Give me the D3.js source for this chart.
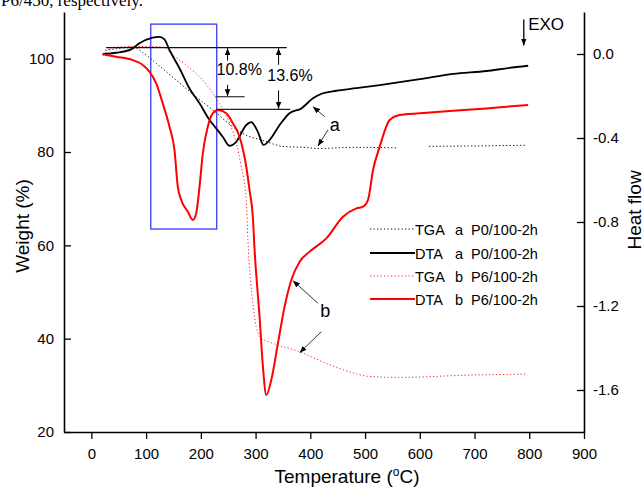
<!DOCTYPE html>
<html>
<head>
<meta charset="utf-8">
<script src="https://cdn.jsdelivr.net/npm/d3@7"></script>
<style>
body { margin: 0; background: #fff; }
text { font-family: Arial, "Liberation Sans", sans-serif; fill: #000; }
</style>
</head>
<body>
<div id="chart"></div>
<script>
// [temperature, weight %]
var tgaA = [[25.6,101.8],[51,102.2],[75,102.5],[93.8,101.35],[118.4,99.0],[155,95.4],[191.5,91.8],
  [222,89.0],[258.5,85.4],[283,83.6],[313,82.5],[350,81.2],[386.5,81.0],[417,80.75],[477,81.0],
  [557,80.9],[587,null],[617,81.2],[700,81.3],[796,81.45]];
var tgaB = [[22,100.6],[38.4,102.4],[69.5,102.6],[106,102.6],[130,102.5],[148.7,100.8],[173.2,98.6],
  [197.6,96.1],[215.9,93.6],[234,90.4],[252.4,86.2],[264.7,81.9],[273.8,76.9],[283,69.7],[286,61.1],
  [295,47.6],[301,42.6],[310.4,40.1],[331.6,39.0],[380.5,37.2],[429,34.7],[472,32.9],[508.5,31.9],
  [563,31.7],[691.5,32.2],[795,32.4]];
// [temperature, heat flow]
var dtaA = [[20.7,0.0],[45.2,0.006],[72.6,0.022],[87.8,0.051],[112,0.078],[124.4,0.082],[133.5,0.070],
  [142.7,0.019],[161,-0.068],[179,-0.163],[197.6,-0.235],[215.9,-0.314],[228,-0.354],[240,-0.394],
  [252.4,-0.437],[264.7,-0.418],[283,-0.338],[292,-0.324],[304,-0.37],[314.6,-0.433],[325.6,-0.41],
  [344,-0.338],[362,-0.282],[383.6,-0.259],[404.8,-0.211],[423,-0.187],[447.6,-0.175],[484,-0.163],
  [526.8,-0.148],[569.5,-0.132],[600,-0.12],[661,-0.095],[722,-0.081],[758.6,-0.068],[798,-0.056]];
var dtaB = [[20.7,-0.001],[45.2,-0.013],[75.5,-0.029],[93.8,-0.052],[106.1,-0.084],[118.4,-0.14],
  [130.4,-0.235],[142.7,-0.346],[151.8,-0.457],[157.9,-0.632],[164.1,-0.695],[176.2,-0.751],
  [185.3,-0.79],[191.5,-0.759],[197.6,-0.632],[203.6,-0.473],[212.7,-0.346],[221.9,-0.282],
  [231,-0.267],[246.4,-0.282],[258.5,-0.33],[270.7,-0.394],[283,-0.537],[289,-0.648],[295,-0.775],
  [298.2,-0.933],[307.3,-1.251],[313.4,-1.489],[319.6,-1.624],[328.7,-1.552],[340.8,-1.378],
  [353,-1.203],[365.3,-1.076],[380.5,-0.989],[398.8,-0.941],[429.3,-0.878],[459.7,-0.775],
  [484.2,-0.735],[496.3,-0.727],[505.4,-0.695],[514.6,-0.552],[526.8,-0.441],[545,-0.314],
  [563.4,-0.29],[600,-0.282],[661,-0.27],[722,-0.259],[758.6,-0.251],[798,-0.243]];

var xMajor = d3.range(0, 901, 100);
var xMinor = d3.range(-50, 901, 50);
var weightTicks = [20, 40, 60, 80, 100];
var heatTicks = [0, -0.4, -0.8, -1.2, -1.6];
var legendKind = ["TGA", "DTA", "TGA", "DTA"];
var legendTag = ["a", "a", "b", "b"];
var legendName = ["P0/100-2h", "P0/100-2h", "P6/100-2h", "P6/100-2h"];

var margin = {top: 12, right: 60, bottom: 55, left: 64},
    W = 644, H = 487;

var x = d3.scaleLinear().domain([-50, 900]).range([margin.left, W - margin.right]);
var yW = d3.scaleLinear().domain([20, 110]).range([H - margin.bottom, margin.top]);
var yH = d3.scaleLinear().domain([-1.8, 0.2]).range([H - margin.bottom, margin.top]);

var svg = d3.select("#chart").append("svg")
    .attr("width", W).attr("height", H);

// cut-off text from the page above
svg.append("text").attr("x", 1).attr("y", 6)
    .style("font-family", "'Liberation Serif', 'Times New Roman', serif")
    .style("font-size", "17px").text("P6/450, respectively.");

var dotted = "1.2,2.3";

var lineW = d3.line().defined(function(d) { return d[1] != null; })
    .x(function(d) { return x(d[0]); }).y(function(d) { return yW(d[1]); })
    .curve(d3.curveMonotoneX);
var lineH = d3.line()
    .x(function(d) { return x(d[0]); }).y(function(d) { return yH(d[1]); })
    .curve(d3.curveMonotoneX);

// blue box
svg.append("rect")
    .attr("x", x(108.5)).attr("y", yW(107.4))
    .attr("width", x(229) - x(108.5)).attr("height", yW(63.5) - yW(107.4))
    .attr("fill", "none").attr("stroke", "#4646ff").attr("stroke-width", 1.4);

svg.append("path").datum(tgaA).attr("d", lineW)
    .attr("fill", "none").attr("stroke", "#000").attr("stroke-width", 1).attr("stroke-dasharray", dotted);
svg.append("path").datum(tgaB).attr("d", lineW)
    .attr("fill", "none").attr("stroke", "#ff2020").attr("stroke-width", 1).attr("stroke-dasharray", dotted);
svg.append("path").datum(dtaA).attr("d", lineH)
    .attr("fill", "none").attr("stroke", "#000").attr("stroke-width", 1.8);
svg.append("path").datum(dtaB).attr("d", lineH)
    .attr("fill", "none").attr("stroke", "#ff0000").attr("stroke-width", 2);

// axes
var gx = svg.append("g").attr("transform", "translate(0," + yW(20) + ")");
gx.call(d3.axisBottom(x).tickValues(xMinor).tickSize(4).tickSizeOuter(0).tickFormat(""));
gx.call(d3.axisBottom(x).tickValues(xMajor).tickSize(7).tickSizeOuter(0).tickPadding(9));
gx.selectAll("text").style("font-size", "15px").style("font-family", "Arial, 'Liberation Sans', sans-serif");

var gl = svg.append("g").attr("transform", "translate(" + x(-50) + ",0)")
    .call(d3.axisLeft(yW).tickValues(weightTicks).tickSize(-7).tickSizeOuter(0).tickPadding(10));
gl.selectAll("text").style("font-size", "15px").style("font-family", "Arial, 'Liberation Sans', sans-serif");

var gr = svg.append("g").attr("transform", "translate(" + x(900) + ",0)")
    .call(d3.axisRight(yH).tickValues(heatTicks).tickSize(-7).tickSizeOuter(0).tickPadding(9)
      .tickFormat(function(d) { return d.toFixed(1); }));
gr.selectAll("text").style("font-size", "15px").style("font-family", "Arial, 'Liberation Sans', sans-serif");

svg.selectAll(".domain").attr("stroke-width", 1.6);
svg.selectAll(".tick line").attr("stroke-width", 1.3);

// axis titles
svg.append("text").attr("transform", "translate(29," + 226 + ") rotate(-90)")
    .attr("text-anchor", "middle").style("font-size", "19px").text("Weight (%)");
svg.append("text").attr("transform", "translate(641," + 210 + ") rotate(-90)")
    .attr("text-anchor", "middle").style("font-size", "19px").text("Heat flow");
var tt = svg.append("text").attr("x", 347).attr("y", 483)
    .attr("text-anchor", "middle").style("font-size", "19px");
tt.append("tspan").text("Temperature (");
tt.append("tspan").attr("dy", -7).style("font-size", "12px").text("o");
tt.append("tspan").attr("dy", 7).text("C)");

// arrow marker
var defs = svg.append("defs");
defs.append("marker").attr("id", "ah").attr("viewBox", "0 0 10 10")
    .attr("refX", 10).attr("refY", 5).attr("markerWidth", 7).attr("markerHeight", 7)
    .attr("markerUnits", "userSpaceOnUse").attr("orient", "auto")
    .append("path").attr("d", "M0,1L10,5L0,9Z").attr("fill", "#000");

function arrow(t0, w0, t1, w1, sw) {
  svg.append("line").attr("x1", x(t0)).attr("y1", yW(w0)).attr("x2", x(t1)).attr("y2", yW(w1))
    .attr("stroke", "#000").attr("stroke-width", sw || 0.8).attr("marker-end", "url(#ah)");
}

// mass-loss brackets
function hline(t0, t1, w, c) {
  svg.append("line").attr("x1", x(t0)).attr("x2", x(t1)).attr("y1", yW(w)).attr("y2", yW(w))
    .attr("stroke", c || "#111").attr("stroke-width", 1.2);
}
hline(26.9, 357, 102.35);
hline(226.8, 280, 91.85, "#333");
hline(227.5, 363.5, 89.15, "#222");
arrow(248.8, 99.6, 248.8, 102.25, 1);
arrow(248.8, 94.4, 248.8, 91.95, 1);
arrow(342, 98.7, 342, 102.25, 1);
arrow(342, 93.2, 342, 89.25, 1);
svg.append("text").attr("x", x(228.6)).attr("y", yW(96.4)).style("font-size", "16px").text("10.8%");
svg.append("text").attr("x", x(321.3)).attr("y", yW(95.3)).style("font-size", "16px").text("13.6%");

// curve labels
arrow(426.2, 87.57, 404.8, 89.71);
arrow(432.2, 84.72, 414, 81.29);
svg.append("text").attr("x", x(435.4)).attr("y", yW(84.5)).style("font-size", "18px").text("a");
arrow(414, 47.58, 368.2, 52.43);
arrow(420.2, 41.5, 380.5, 37.0);
svg.append("text").attr("x", x(418.3)).attr("y", yW(44.7)).style("font-size", "18px").text("b");

// EXO
arrow(790, 108.4, 790, 102.8, 1.3);
svg.append("text").attr("x", x(798)).attr("y", yW(106.1)).style("font-size", "17px").text("EXO");

// legend
var legY = [229, 253, 276, 299];
var legStroke = ["#000", "#000", "#ff2020", "#ff0000"];
var legDash = [dotted, null, dotted, null];
var legWidth = [1, 1.8, 1, 2];
legY.forEach(function(yy, i) {
  svg.append("line").attr("x1", 370).attr("x2", 415).attr("y1", yy).attr("y2", yy)
    .attr("stroke", legStroke[i]).attr("stroke-width", legWidth[i]).attr("stroke-dasharray", legDash[i]);
  svg.append("text").attr("x", 415).attr("y", yy + 6).style("font-size", "14.5px").text(legendKind[i]);
  svg.append("text").attr("x", 455).attr("y", yy + 6).style("font-size", "14.5px").text(legendTag[i]);
  svg.append("text").attr("x", 471).attr("y", yy + 6).style("font-size", "14.5px").text(legendName[i]);
});
</script>
</body>
</html>
